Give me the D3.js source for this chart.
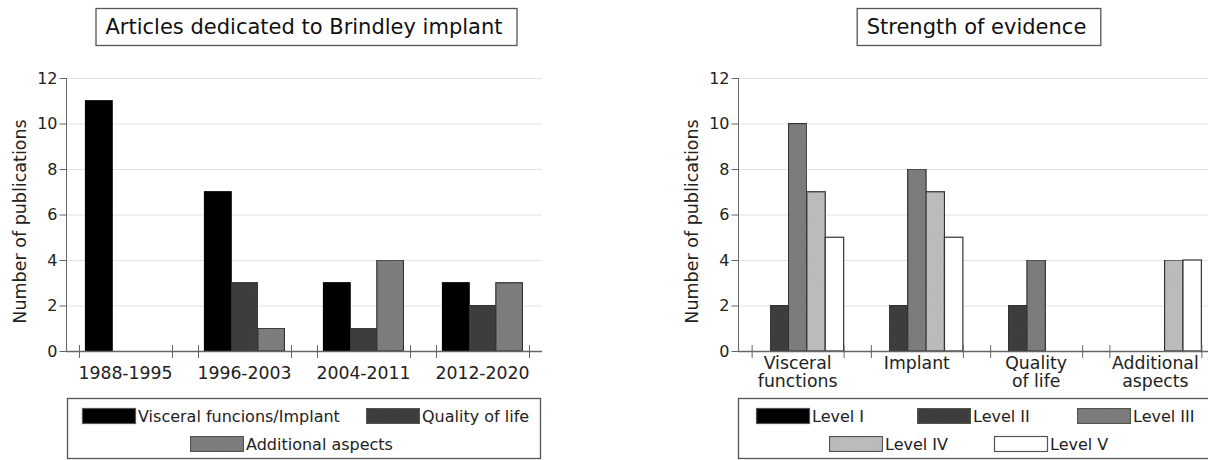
<!DOCTYPE html>
<html>
<head>
<meta charset="utf-8">
<script src="https://cdn.jsdelivr.net/npm/d3@7"></script>
<style>
  html, body { margin: 0; padding: 0; background: #fff; }
  svg { display: block; font-family: "DejaVu Sans", Verdana, sans-serif; }
</style>
</head>
<body>
<svg id="chart" width="1208" height="460"></svg>
<script>
// ---------- data ----------
const periods = ["1988-1995", "1996-2003", "2004-2011", "2012-2020"];
const topicSeries = ["Visceral funcions/Implant", "Quality of life", "Additional aspects"];
const visceralImplant = [11, 7, 3, 3];
const qualityOfLife = [0, 3, 1, 2];
const additionalAspects = [0, 1, 4, 3];

const topics = [["Visceral", "functions"], ["Implant"], ["Quality", "of life"], ["Additional", "aspects"]];
const levels = ["Level I", "Level II", "Level III", "Level IV", "Level V"];
const levelI = [0, 0, 0, 0];
const levelII = [2, 2, 2, 0];
const levelIII = [10, 8, 4, 0];
const levelIV = [7, 7, 0, 4];
const levelV = [5, 5, 0, 4];

const yTicks = [0, 2, 4, 6, 8, 10, 12];
const leftTitle = "Articles dedicated to Brindley implant";
const rightTitle = "Strength of evidence";
const yLabel = "Number of publications";

// ---------- styles ----------
const leftColors = ["#000000", "#404040", "#808080"];
const rightColors = ["#000000", "#404040", "#7f7f7f", "#c0c0c0", "#ffffff"];
const axisColor = "#666666";
const gridColor = "#e2e2e2";
const textColor = "#222222";

const svg = d3.select("#chart");

// grain texture for the grey fills
const defs = svg.append("defs");
const f = defs.append("filter").attr("id", "grain").attr("x", 0).attr("y", 0).attr("width", 1).attr("height", 1);
f.append("feTurbulence").attr("type", "fractalNoise").attr("baseFrequency", 1.4).attr("numOctaves", 1).attr("result", "n");
f.append("feColorMatrix").attr("in", "n").attr("type", "matrix")
  .attr("values", "0 0 0 0 0  0 0 0 0 0  0 0 0 0 0  0 0 0 0.12 0").attr("result", "dots");
f.append("feComposite").attr("in", "dots").attr("in2", "SourceGraphic").attr("operator", "atop");

function drawChart(cfg) {
  const g = svg.append("g");
  const y = d3.scaleLinear().domain([0, 12]).range([351, 78]);
  const x = d3.scaleBand().domain(d3.range(cfg.groups.length)).range(cfg.xRange).paddingInner(0).paddingOuter(0);
  const bw = x.bandwidth();
  const x1 = d3.scaleBand().domain(d3.range(cfg.series.length))
    .range([(bw - cfg.barsWidth) / 2, (bw + cfg.barsWidth) / 2]).padding(0);

  // gridlines
  g.append("g").selectAll("line").data(yTicks.filter(t => t > 0)).join("line")
    .attr("x1", cfg.xRange[0]).attr("x2", cfg.xRange[1])
    .attr("y1", d => y(d) + 0.5).attr("y2", d => y(d) + 0.5)
    .attr("stroke", gridColor).attr("stroke-width", 1);

  // y axis
  const yAxis = g.append("g").attr("transform", `translate(${cfg.xRange[0] + 0.5},0)`)
    .call(d3.axisLeft(y).tickValues(yTicks).tickSize(7).tickPadding(2).tickFormat(d3.format("d")));
  yAxis.select(".domain").attr("stroke", axisColor).attr("d", `M-0,${y(12)}V${y(0)}`);
  yAxis.selectAll(".tick line").attr("stroke", axisColor);
  yAxis.selectAll(".tick text").attr("fill", textColor).style("font-size", "16px")
    .style("font-family", '"DejaVu Sans", sans-serif');

  // y label
  g.append("text")
    .attr("transform", `translate(${cfg.xRange[0] - 46},${(y(0) + y(12)) / 2 + 7}) rotate(-90)`)
    .attr("text-anchor", "middle").attr("dy", "0.35em")
    .attr("fill", textColor).style("font-size", "17.5px").text(yLabel);

  // bars
  const data = [];
  cfg.groups.forEach((grp, i) => cfg.values.forEach((vals, s) => data.push({ i, s, v: vals[i] })));
  g.append("g").selectAll("rect").data(data.filter(d => d.v > 0)).join("rect")
    .attr("x", d => x(d.i) + x1(d.s))
    .attr("y", d => y(d.v))
    .attr("width", x1.bandwidth())
    .attr("height", d => y(0) - y(d.v))
    .attr("fill", d => cfg.colors[d.s])
    .attr("filter", d => (cfg.colors[d.s] !== "#000000" && cfg.colors[d.s] !== "#ffffff") ? "url(#grain)" : null)
    .attr("stroke", d => d.s === 0 ? "#000" : "#333")
    .attr("stroke-width", 1.2);

  // x axis line
  g.append("line").attr("x1", cfg.xRange[0]).attr("x2", cfg.xRange[1])
    .attr("y1", y(0) + 0.5).attr("y2", y(0) + 0.5).attr("stroke", axisColor).attr("stroke-width", 1.3);

  // group edge ticks
  const tickPos = [];
  cfg.groups.forEach((grp, i) => {
    tickPos.push(x(i) + bw / 2 - cfg.tickHalf);
    tickPos.push(x(i) + bw / 2 + cfg.tickHalf);
  });
  g.append("g").selectAll("line").data(tickPos).join("line")
    .attr("x1", d => d + 0.5).attr("x2", d => d + 0.5)
    .attr("y1", y(0) - 6).attr("y2", y(0) + 7)
    .attr("stroke", axisColor).attr("stroke-width", 1);

  // x labels
  const lbl = g.append("g").selectAll("text").data(cfg.groups).join("text")
    .attr("x", (d, i) => x(i) + bw / 2)
    .attr("y", cfg.labelY)
    .attr("text-anchor", "middle").attr("fill", textColor).style("font-size", "17.3px");
  lbl.each(function (d) {
    const lines = Array.isArray(d) ? d : [d];
    const t = d3.select(this);
    lines.forEach((ln, k) => t.append("tspan").attr("x", t.attr("x")).attr("dy", k === 0 ? 0 : 18).text(ln));
  });

  // title box
  const cx = (cfg.xRange[0] + cfg.xRange[1]) / 2 + cfg.titleShift;
  const box = g.append("rect");
  const tt = g.append("text").attr("x", cx).attr("y", 34).attr("text-anchor", "middle")
    .attr("fill", "#111").style("font-size", "21px").text(cfg.title);
  const tw = tt.node().getComputedTextLength();
  box.attr("x", cx - tw / 2 - 9.5).attr("y", 8.5).attr("width", tw + 24).attr("height", 37)
    .attr("fill", "#fff").attr("stroke", "#555").attr("stroke-width", 1.3);

  // legend box
  g.append("rect").attr("x", cfg.legendBox[0] + 0.5).attr("y", 398.5)
    .attr("width", cfg.legendBox[1] - cfg.legendBox[0]).attr("height", 60)
    .attr("fill", "#fff").attr("stroke", "#555").attr("stroke-width", 1.3);
  const items = g.append("g").selectAll("g").data(cfg.series).join("g")
    .attr("transform", (d, s) => `translate(${cfg.legendPos[s][0]},${cfg.legendPos[s][1]})`);
  items.append("rect").attr("x", 0.5).attr("y", 0.5).attr("width", 53).attr("height", 15)
    .attr("fill", (d, s) => cfg.colors[s])
    .attr("filter", (d, s) => (cfg.colors[s] !== "#000000" && cfg.colors[s] !== "#ffffff") ? "url(#grain)" : null)
    .attr("stroke", "#555").attr("stroke-width", 1.2);
  items.append("text").attr("x", 56).attr("y", 8).attr("dy", "0.35em")
    .attr("fill", textColor).style("font-size", "16px").text(d => d);
}

drawChart({
  groups: periods,
  series: topicSeries,
  values: [visceralImplant, qualityOfLife, additionalAspects],
  colors: leftColors,
  xRange: [66, 542],
  barsWidth: 80,
  tickHalf: 46.5,
  labelY: 379,
  title: leftTitle,
  titleShift: 0,
  legendBox: [67, 540],
  legendPos: [[82, 408], [366, 408], [190, 436]]
});

drawChart({
  groups: topics,
  series: levels,
  values: [levelI, levelII, levelIII, levelIV, levelV],
  colors: rightColors,
  xRange: [738, 1215],
  barsWidth: 92,
  tickHalf: 46,
  labelY: 369,
  title: rightTitle,
  titleShift: 0,
  legendBox: [738, 1220],
  legendPos: [[756, 408], [917, 408], [1077, 408], [829, 436], [994, 436]]
});
</script>
</body>
</html>
